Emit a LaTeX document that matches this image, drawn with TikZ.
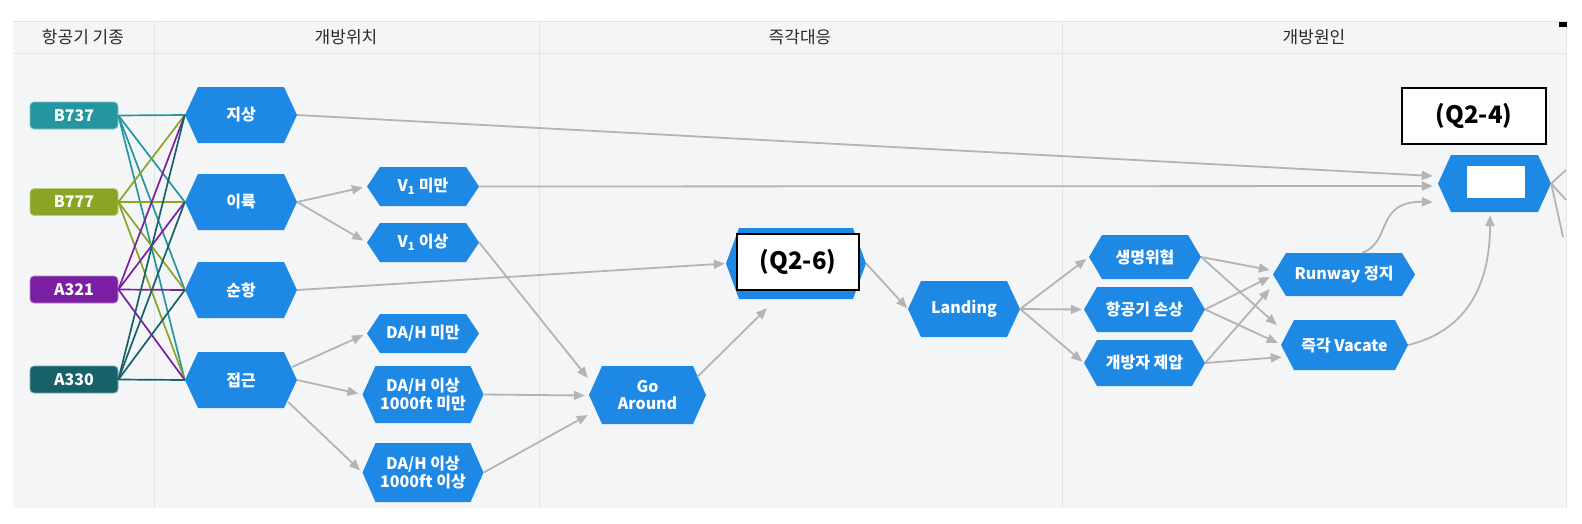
\documentclass[tikz,border=0pt]{standalone}
\usepackage{fontspec}
\setmainfont{Noto Sans CJK KR}
\usetikzlibrary{arrows.meta}
\definecolor{hexblue}{HTML}{1E88E5}
\definecolor{panelbg}{HTML}{F4F5F7}
\definecolor{sepline}{HTML}{E3E4E7}
\definecolor{cBa}{HTML}{2496A0}
\definecolor{cBb}{HTML}{89A523}
\definecolor{cAa}{HTML}{7B1FA2}
\definecolor{cAb}{HTML}{176168}
\definecolor{edgegray}{HTML}{B4B4B4}
\definecolor{headtext}{HTML}{2A2A2A}
\begin{document}
\begin{tikzpicture}[x=1pt,y=-1pt,
  hexnode/.style args={#1x#2}{rectangle, inner sep=0pt, minimum width=#1pt, minimum height=#2pt,
    align=center, text=white, font=\bfseries\fontsize{16}{17.5}\selectfont,
    path picture={\fill[hexblue] (path picture bounding box.west)
      -- ([xshift=13pt]path picture bounding box.north west)
      -- ([xshift=-13pt]path picture bounding box.north east)
      -- (path picture bounding box.east)
      -- ([xshift=-13pt]path picture bounding box.south east)
      -- ([xshift=13pt]path picture bounding box.south west) -- cycle;}},
  acnode/.style={rectangle, rounded corners=4pt, minimum width=88pt, minimum height=27pt,
    inner sep=0pt, text=white, font=\bfseries\fontsize{16}{17.5}\selectfont,
    fill=#1, draw=#1!55!white, line width=0.8pt},
  headlbl/.style={text=headtext, font=\fontsize{17}{20}\selectfont, inner sep=0pt},
  qlbl/.style={draw=black, fill=white, line width=1.2pt, inner sep=0pt,
    font=\bfseries\fontsize{24}{26}\selectfont},
  ae/.style={draw=edgegray, line width=1.8pt, -{Triangle[length=11pt,width=9pt]}},
  pe/.style={draw=edgegray, line width=1.8pt},
  sepl/.style={draw=sepline, line width=1pt},
]
\useasboundingbox (0,0) rectangle (1582,523);
\fill[white] (0,0) rectangle (1582,523);
% panel
\fill[panelbg] (13,21) rectangle (1566,508);
\draw[sepl] (13,21) -- (1566,21);
\draw[sepl] (1566,21) -- (1566,508);
\draw[sepl] (13,53) -- (1566,53);
\draw[sepl] (154,21) -- (154,508);
\draw[sepl] (539,21) -- (539,508);
\draw[sepl] (1062,21) -- (1062,508);
\fill[black] (1559,22) rectangle (1567,27);
% headers
\node[headlbl] (h1) at (83,37) {항공기 기종};
\node[headlbl] (h2) at (346,37) {개방위치};
\node[headlbl] (h3) at (800,37) {즉각대응};
\node[headlbl] (h4) at (1314,37) {개방원인};
% aircraft
\node[acnode=cBa] (b737) at (74,115.5) {B737};
\node[acnode=cBb] (b777) at (74,202) {B777};
\node[acnode=cAa] (a321) at (74,289.5) {A321};
\node[acnode=cAb] (a330) at (74,379.5) {A330};
% hexagons
\node[hexnode=112x56] (jisang) at (241,115) {지상};
\node[hexnode=112x56] (iryuk) at (241,202) {이륙};
\node[hexnode=112x56] (sunhang) at (241,290) {순항};
\node[hexnode=112x56] (jeopgeun) at (241,380) {접근};
\node[hexnode=112x39] (v1mi) at (423,186.5) {V\textsubscript{1} 미만};
\node[hexnode=112x39] (v1i) at (423,242.5) {V\textsubscript{1} 이상};
\node[hexnode=112x39] (dahmi) at (423,333.5) {DA/H 미만};
\node[hexnode=121x57] (dahone) at (423,394.5) {DA/H 이상\\1000ft 미만};
\node[hexnode=121x59] (dahtwo) at (423,472.5) {DA/H 이상\\1000ft 이상};
\node[hexnode=117x58] (ga) at (647.5,395) {Go\\Around};
\node[hexnode=140x71] (q26) at (796,263.5) {};
\node[hexnode=112x56] (landing) at (964,309) {Landing};
\node[hexnode=112x44] (saeng) at (1145,257) {생명위협};
\node[hexnode=121x45] (hanggong) at (1144.5,309.5) {항공기 손상};
\node[hexnode=121x46] (gaebang) at (1144.5,363) {개방자 제압};
\node[hexnode=142x43] (runway) at (1344,274.5) {Runway 정지};
\node[hexnode=127x50] (vacate) at (1344.5,345) {즉각 Vacate};
\node[hexnode=113x57] (q24) at (1494.5,183.5) {};
\node[fill=white, inner sep=0pt, minimum width=58pt, minimum height=32pt] (q24box) at (1496,182) {};
% label boxes
\node[qlbl, minimum width=122pt, minimum height=56pt] (q26lbl) at (798,262) {(Q2-6)};
\node[qlbl, minimum width=144pt, minimum height=56pt] (q24lbl) at (1474,116) {(Q2-4)};
% aircraft to position lines
\foreach \a/\c in {b737/cBa, b777/cBb, a321/cAa, a330/cAb}{
  \foreach \h in {jisang,iryuk,sunhang,jeopgeun}{
    \draw[\c, line width=1.7pt] (\a.east) -- (\h.west);
  }
}
% gray connectors
\draw[ae] (jisang.east) -- ([shift={(-5,-7.5)}]q24.west);
\draw[ae] (v1mi.east) -- ([shift={(-5,2.5)}]q24.west);
\draw[ae] ([shift={(18,0)}]runway.north) .. controls +(30,-10) and +(-58,-1) .. ([shift={(-5,18.5)}]q24.west);
\draw[ae] (vacate.east) .. controls +(62,-15) and +(0,65) .. ([shift={(-4.5,3)}]q24.south);
\draw[ae, shorten >=4pt] (iryuk.east) -- (v1mi.west);
\draw[ae, shorten >=4pt] (iryuk.east) -- (v1i.west);
\draw[ae, shorten >=1pt] (sunhang.east) -- (q26.west);
\draw[ae, shorten >=4pt] ([shift={(-5,-13)}]jeopgeun.east) -- (dahmi.west);
\draw[ae, shorten >=4pt] (jeopgeun.east) -- (dahone.west);
\draw[ae, shorten >=3pt] ([shift={(-9,22)}]jeopgeun.east) -- (dahtwo.west);
\draw[ae] (v1i.east) -- ([shift={(-1,-17)}]ga.west);
\draw[ae] (dahone.east) -- ([shift={(-4,0.5)}]ga.west);
\draw[ae] (dahtwo.east) -- ([shift={(-1,20)}]ga.west);
\draw[ae] ([shift={(-9,-18)}]ga.east) -- ([shift={(-29,9)}]q26.south);
\draw[ae, shorten >=1pt] (q26.east) -- (landing.west);
\draw[ae, shorten >=3pt] (landing.east) -- (saeng.west);
\draw[ae, shorten >=2pt] (landing.east) -- (hanggong.west);
\draw[ae, shorten >=2pt] (landing.east) -- (gaebang.west);
\draw[ae] (saeng.east) -- ([shift={(-3,-4.5)}]runway.west);
\draw[ae] (saeng.east) -- ([shift={(-4,-20)}]vacate.west);
\draw[ae] (hanggong.east) -- ([shift={(-3,2.5)}]runway.west);
\draw[ae] (hanggong.east) -- ([shift={(-3,-2)}]vacate.west);
\draw[ae] (gaebang.east) -- ([shift={(-3,14.5)}]runway.west);
\draw[ae] (gaebang.east) -- ([shift={(1,12)}]vacate.west);
% outgoing lines beyond the frame
\coordinate (outa) at (1566,170);
\coordinate (outb) at (1566,200);
\coordinate (outc) at (1563,237);
\draw[pe] (q24.east) -- (outa);
\draw[pe] (q24.east) -- (outb);
\draw[pe] (q24.east) -- (outc);
\end{tikzpicture}
\end{document}
